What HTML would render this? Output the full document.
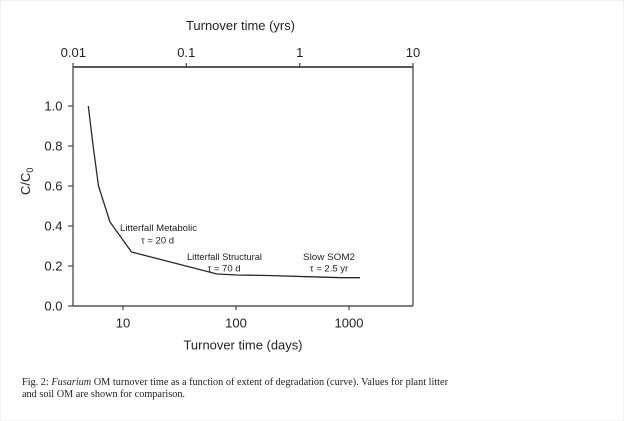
<!DOCTYPE html>
<html>
<head>
<meta charset="utf-8">
<style>
html,body{margin:0;padding:0;background:#fff;}
svg{display:block;}
</style>
</head>
<body>
<svg width="624" height="421" viewBox="0 0 624 421" xmlns="http://www.w3.org/2000/svg">
<rect x="0" y="0" width="624" height="421" fill="#fff"/>
<rect x="0.5" y="0.5" width="623" height="420" fill="none" stroke="#f2f2f2" stroke-width="1"/>

<g font-family="Liberation Sans, Arial, sans-serif" fill="#222">
  <!-- top axis title -->
  <text x="240.5" y="30" font-size="13" text-anchor="middle" textLength="109" lengthAdjust="spacingAndGlyphs">Turnover time (yrs)</text>
  <!-- top tick labels -->
  <text x="73.3" y="57" font-size="13" text-anchor="middle">0.01</text>
  <text x="186.3" y="57" font-size="13" text-anchor="middle">0.1</text>
  <text x="299.7" y="57" font-size="13" text-anchor="middle">1</text>
  <text x="413" y="57" font-size="13" text-anchor="middle">10</text>

  <!-- left tick labels -->
  <text x="62.5" y="110.5" font-size="13" text-anchor="end">1.0</text>
  <text x="62.5" y="150.5" font-size="13" text-anchor="end">0.8</text>
  <text x="62.5" y="190.5" font-size="13" text-anchor="end">0.6</text>
  <text x="62.5" y="230.5" font-size="13" text-anchor="end">0.4</text>
  <text x="62.5" y="270.5" font-size="13" text-anchor="end">0.2</text>
  <text x="62.5" y="310.5" font-size="13" text-anchor="end">0.0</text>

  <!-- bottom tick labels -->
  <text x="123" y="327.5" font-size="13" text-anchor="middle">10</text>
  <text x="236" y="327.5" font-size="13" text-anchor="middle">100</text>
  <text x="349" y="327.5" font-size="13" text-anchor="middle">1000</text>

  <!-- bottom axis title -->
  <text x="243" y="349.5" font-size="13" text-anchor="middle" textLength="119" lengthAdjust="spacingAndGlyphs">Turnover time (days)</text>

  <!-- y axis label -->
  <text transform="translate(30,195) rotate(-90)" font-size="13">C/C<tspan font-size="9" dy="3">0</tspan></text>

  <!-- annotations -->
  <text x="158.5" y="231" font-size="9.5" text-anchor="middle" textLength="77" lengthAdjust="spacingAndGlyphs">Litterfall Metabolic</text>
  <text x="157.5" y="243.5" font-size="9.5" text-anchor="middle">τ = 20 d</text>
  <text x="224.5" y="260" font-size="9.5" text-anchor="middle" textLength="75" lengthAdjust="spacingAndGlyphs">Litterfall Structural</text>
  <text x="224" y="271.5" font-size="9.5" text-anchor="middle">τ = 70 d</text>
  <text x="329" y="260" font-size="9.5" text-anchor="middle" textLength="52" lengthAdjust="spacingAndGlyphs">Slow SOM2</text>
  <text x="329" y="271.5" font-size="9.5" text-anchor="middle">τ = 2.5 yr</text>
</g>

<!-- axes box -->
<g stroke="#3a3a3a" stroke-width="1.4" fill="none">
  <line x1="73" y1="67" x2="413" y2="67" stroke="#222"/>
  <line x1="73" y1="67" x2="73" y2="306" stroke="#555"/>
  <line x1="413" y1="67" x2="413" y2="306" stroke="#555"/>
  <line x1="73" y1="306" x2="413" y2="306" stroke="#555"/>
</g>
<!-- ticks -->
<g stroke="#444" stroke-width="1.2">
  <line x1="73" y1="63" x2="73" y2="67"/>
  <line x1="186.3" y1="63" x2="186.3" y2="67"/>
  <line x1="299.7" y1="63" x2="299.7" y2="67"/>
  <line x1="413" y1="63" x2="413" y2="67"/>
  <line x1="123" y1="306" x2="123" y2="310"/>
  <line x1="236" y1="306" x2="236" y2="310"/>
  <line x1="349" y1="306" x2="349" y2="310"/>
  <line x1="68" y1="106" x2="73" y2="106"/>
  <line x1="68" y1="146" x2="73" y2="146"/>
  <line x1="68" y1="186" x2="73" y2="186"/>
  <line x1="68" y1="226" x2="73" y2="226"/>
  <line x1="68" y1="266" x2="73" y2="266"/>
  <line x1="68" y1="306" x2="73" y2="306"/>
</g>

<!-- curve -->
<polyline fill="none" stroke="#2a2a2a" stroke-width="1.3" stroke-linejoin="round"
  points="88.3,106 93,145 98.5,186 110,222 131.5,252 217,274 237,275 268,275.5 307,276.7 342,277.7 360,277.7"/>

<!-- caption -->
<g font-family="Liberation Serif, Times New Roman, serif" font-size="10" fill="#222">
  <text x="22" y="385" textLength="426" lengthAdjust="spacingAndGlyphs">Fig. 2: <tspan font-style="italic">Fusarium</tspan> OM turnover time as a function of extent of degradation (curve). Values for plant litter</text>
  <text x="22" y="397" textLength="163" lengthAdjust="spacingAndGlyphs">and soil OM are shown for comparison.</text>
</g>
</svg>
</body>
</html>
